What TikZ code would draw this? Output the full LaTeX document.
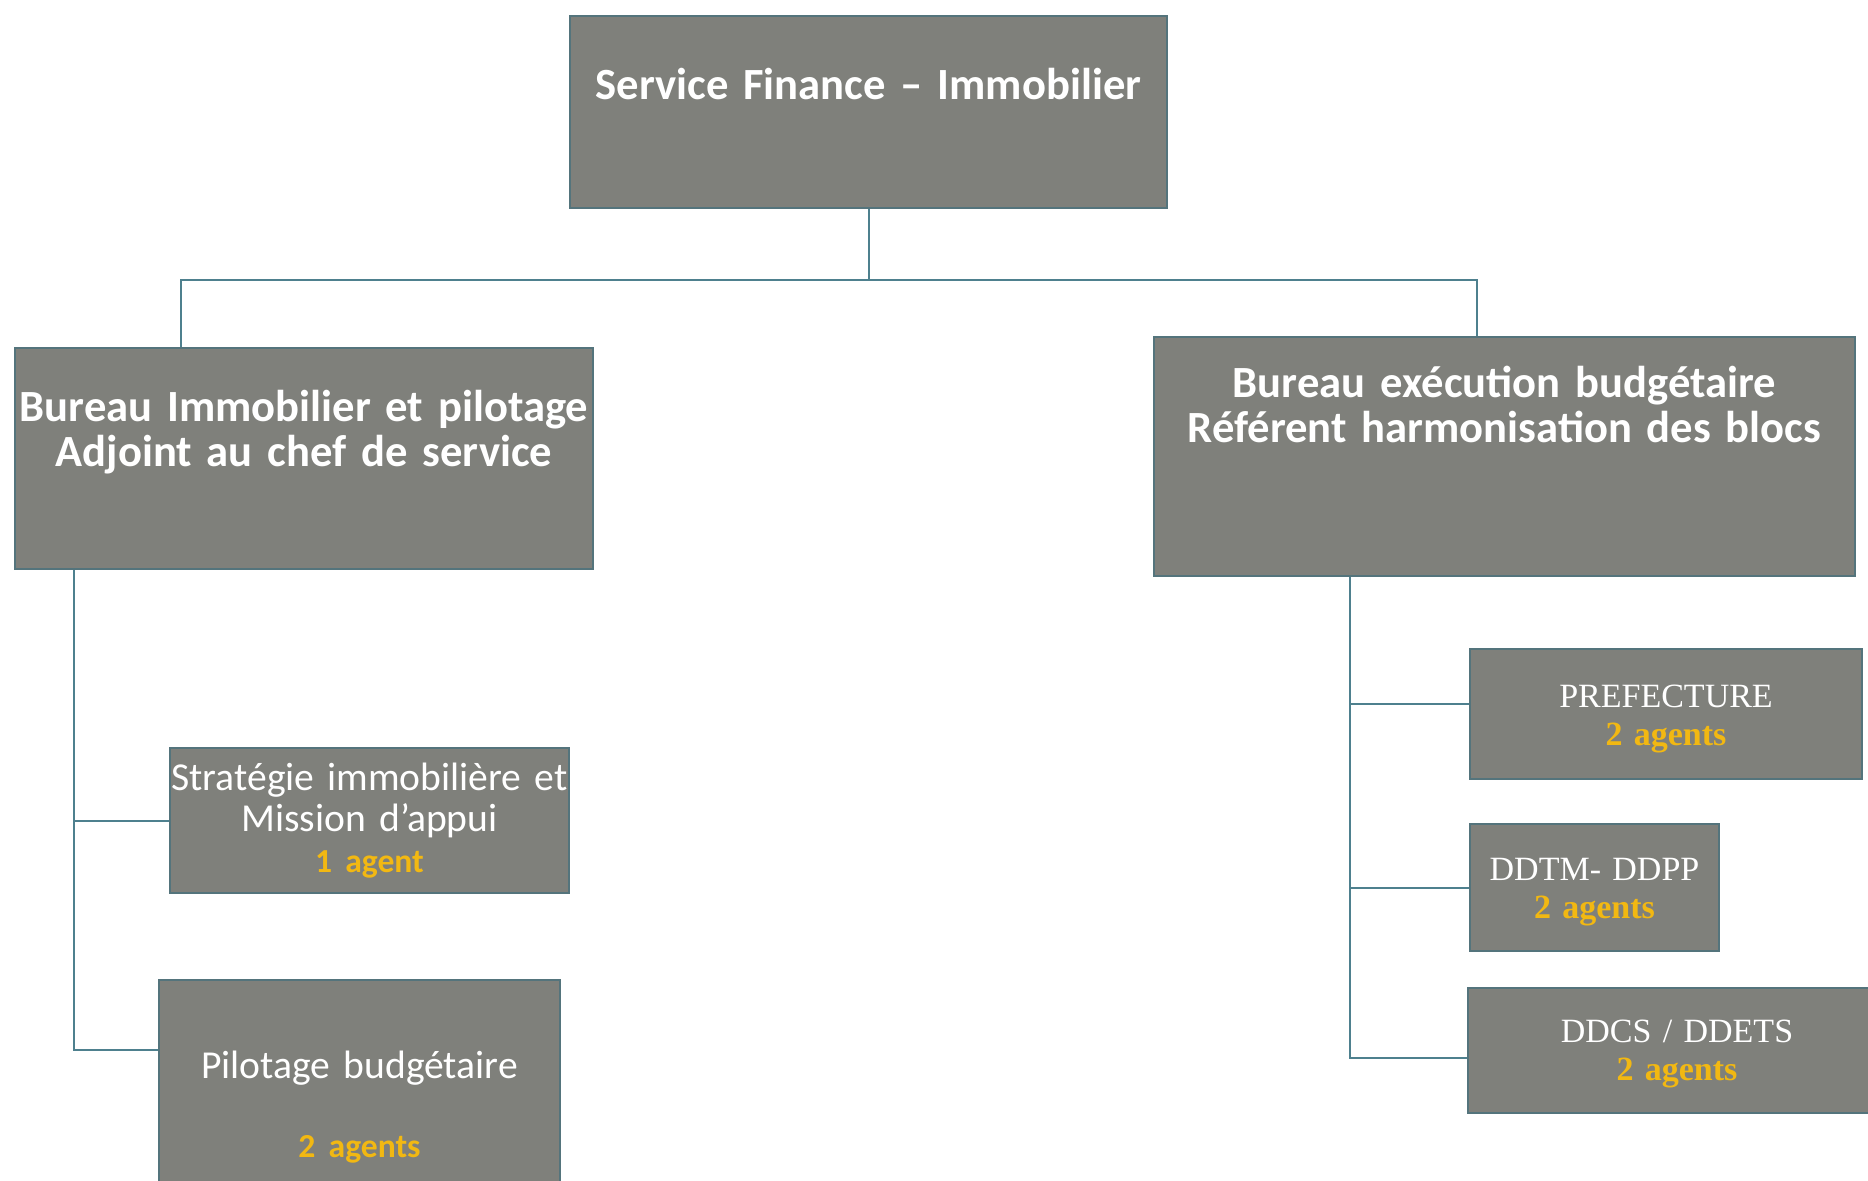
\documentclass[tikz,border=0pt]{standalone}
\usepackage{fontspec}
\setmainfont{Carlito}
\newfontfamily\prefserif{Liberation Serif}
\usepackage{xcolor}
\usepackage{tikz}
\usetikzlibrary{positioning}

\definecolor{boxgray}{RGB}{127,128,123}
\definecolor{boxedge}{RGB}{84,116,124}
\definecolor{linkteal}{RGB}{78,128,142}
\definecolor{agentgold}{RGB}{242,184,18}

\newcommand{\agents}[1]{{\bfseries\color{agentgold}#1}}

\begin{document}
\begin{tikzpicture}[x=0.5pt, y=-0.5pt,
      unit/.style={draw=boxedge, line width=1pt, fill=boxgray, text=white, anchor=north west, inner sep=0pt, align=center},
      head/.style={font=\bfseries\fontsize{22.3}{22.5}\selectfont},
      post/.style={font=\fontsize{19.8}{20.5}\selectfont},
      site/.style={font=\prefserif\fontsize{17}{19}\selectfont},
      link/.style={draw=linkteal, line width=1pt}
    ]
    \useasboundingbox (0,0) rectangle (1868,1181);

    \node[unit, head, text width=298.5pt, text height=42pt, text depth=54pt] (service) at (569,15) {Service Finance -- Immobilier};
    \node[unit, head, text width=289pt, text height=37pt, text depth=73.5pt] (immo) at (14,347) {Bureau Immobilier et pilotage\\Adjoint au chef de service};
    \node[unit, head, text width=350.5pt, text height=30.5pt, text depth=89pt] (exec) at (1153,336) {Bureau exécution budgétaire\\Référent harmonisation des blocs};

    \node[unit, post, text width=199.5pt, text height=21pt, text depth=51.5pt] (strat) at (169,747) {Stratégie immobilière et\\Mission d’appui\\\agents{\fontsize{16.8}{19}\selectfont 1 agent}};
    \node[unit, post, text width=200.5pt, text height=49pt, text depth=62.5pt, below=42.5pt of strat.south west, xshift=-5.5pt, anchor=north west] (pilot) {Pilotage budgétaire\\[19pt]\agents{\fontsize{16.8}{19}\selectfont 2 agents}};

    \node[unit, site, text width=196pt, text height=29pt, text depth=36pt] (pref) at (1469,648) {PREFECTURE\\\agents{2 agents}};
    \node[unit, site, text width=124.5pt, text height=28pt, text depth=35.5pt, below=21.5pt of pref.south west, anchor=north west] (ddtm) {DDTM- DDPP\\\agents{2 agents}};
    \node[unit, site, text width=209pt, text height=27pt, text depth=35.5pt, below=17.5pt of ddtm.south west, xshift=-1pt, anchor=north west] (ddcs) {DDCS / DDETS\\\agents{2 agents}};

    \draw[link] (service.south) -- ++(0,71) -| ([xshift=83.5pt]immo.north west);
    \draw[link] (service.south) -- ++(0,71) -| ([xshift=162pt]exec.north west);
    \draw[link] ([xshift=30pt]immo.south west) |- (strat.west);
    \draw[link] ([xshift=30pt]immo.south west) |- ([yshift=-35.5pt]pilot.north west);
    \draw[link] ([xshift=98.5pt]exec.south west) |- ([yshift=-28pt]pref.north west);
    \draw[link] ([xshift=98.5pt]exec.south west) |- (ddtm.west);
    \draw[link] ([xshift=98.5pt]exec.south west) |- ([yshift=-35.5pt]ddcs.north west);
  \end{tikzpicture}
\end{document}
